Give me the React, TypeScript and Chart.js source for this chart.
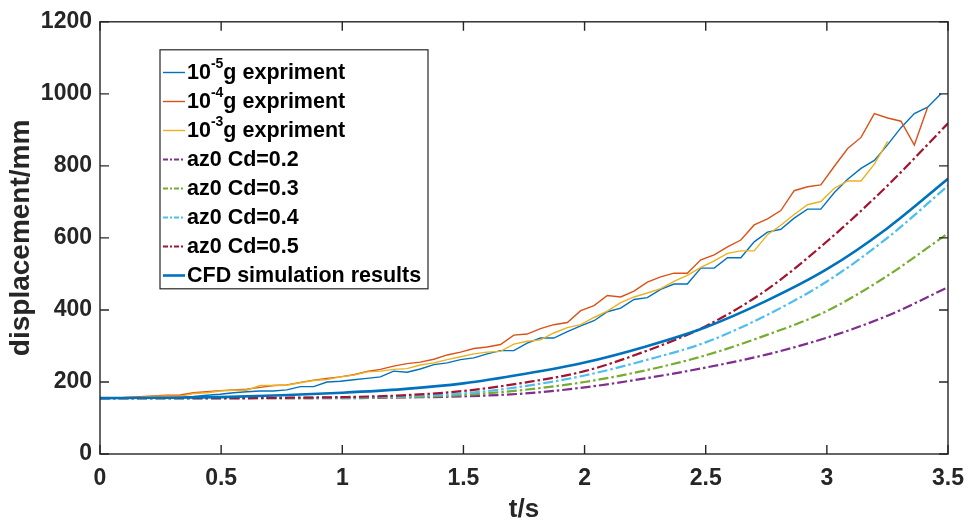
import React, { useEffect, useRef } from 'react';
import { Chart, registerables } from 'chart.js';

Chart.register(...registerables);

// ---- data ----
const EXP_T = [
  0, 0.055, 0.110, 0.165, 0.220, 0.276, 0.331, 0.386, 0.441, 0.496,
  0.551, 0.606, 0.661, 0.716, 0.771, 0.827, 0.882, 0.937, 0.992, 1.047,
  1.102, 1.157, 1.212, 1.267, 1.322, 1.378, 1.433, 1.488, 1.543, 1.598,
  1.653, 1.708, 1.763, 1.818, 1.873, 1.929, 1.984, 2.039, 2.094, 2.149,
  2.204, 2.259, 2.314, 2.369, 2.424, 2.480, 2.535, 2.590, 2.645, 2.700,
  2.755, 2.810, 2.865, 2.920, 2.975, 3.031, 3.086, 3.141, 3.196, 3.251,
  3.306, 3.361, 3.416, 3.471,
];

const EXP_1E5 = [
  155, 155, 156, 157, 158, 158, 158, 160, 163, 166,
  170, 173, 175, 175, 178, 187, 187, 200, 202, 206,
  210, 214, 230, 227, 236, 248, 253, 262, 267, 278,
  287, 287, 308, 322, 322, 340, 356, 370, 395, 405,
  429, 434, 457, 472, 472, 516, 516, 545, 545, 589,
  616, 624, 655, 680, 680, 726, 763, 793, 815, 859,
  906, 945, 963, 1000,
];

const EXP_1E4 = [
  155, 155, 157, 159, 161, 163, 164, 170, 173, 176,
  178, 180, 185, 190, 192, 199, 205, 210, 214, 220,
  229, 235, 244, 251, 255, 263, 275, 283, 293, 297,
  304, 330, 333, 348, 359, 365, 398, 412, 440, 436,
  452, 477, 492, 502, 502, 539, 553, 575, 594, 636,
  653, 676, 731, 742, 747, 799, 848, 879, 945, 933,
  924, 858, 963,
];

const EXP_1E3 = [
  155, 155, 157, 158, 160, 161, 160, 168, 170, 175,
  177, 177, 190, 190, 191, 198, 204, 207, 214, 219,
  228, 230, 235, 237, 247, 253, 262, 270, 278, 283,
  285, 305, 313, 317, 336, 351, 359, 379, 397, 420,
  436, 447, 459, 479, 496, 518, 536, 557, 564, 564,
  609, 635, 665, 692, 701, 738, 758, 758, 805, 868,
];

const MODEL_T = [0, 0.25, 0.5, 0.75, 1, 1.25, 1.5, 1.75, 2, 2.25, 2.5, 2.75, 3, 3.25, 3.5];
const CD02 = [155, 155, 155, 155, 155, 157, 160, 168, 185, 210, 240, 276, 323, 384, 463];
const CD03 = [155, 155, 155, 155, 156, 158, 164, 178, 200, 232, 274, 330, 397, 495, 613];
const CD04 = [155, 155, 155, 156, 157, 160, 168, 188, 218, 260, 310, 385, 479, 600, 745];
const CD05 = [155, 155, 155, 156, 158, 163, 175, 198, 230, 285, 355, 455, 590, 745, 918];
const CFD = [155, 156, 158, 163, 170, 180, 196, 222, 254, 298, 352, 425, 513, 627, 764];

const X_TICKS = [0, 0.5, 1, 1.5, 2, 2.5, 3, 3.5];
const Y_TICKS = [0, 200, 400, 600, 800, 1000, 1200];

const X_TITLE = 't/s';
const Y_TITLE = 'displacement/mm';

type Series = {
  base: string;
  sup?: string;
  rest?: string;
  t: number[];
  v: number[];
  color: string;
  width: number;
  dash: number[];
  smooth: boolean;
};

const DASHDOT = [10, 3, 2.5, 3];

const SERIES: Series[] = [
  { base: '10', sup: '-5', rest: 'g expriment', t: EXP_T, v: EXP_1E5, color: '#0072BD', width: 1.4, dash: [], smooth: false },
  { base: '10', sup: '-4', rest: 'g expriment', t: EXP_T, v: EXP_1E4, color: '#D95319', width: 1.4, dash: [], smooth: false },
  { base: '10', sup: '-3', rest: 'g expriment', t: EXP_T, v: EXP_1E3, color: '#EDB120', width: 1.4, dash: [], smooth: false },
  { base: 'az0 Cd=0.2', t: MODEL_T, v: CD02, color: '#7E2F8E', width: 2.2, dash: DASHDOT, smooth: true },
  { base: 'az0 Cd=0.3', t: MODEL_T, v: CD03, color: '#77AC30', width: 2.2, dash: DASHDOT, smooth: true },
  { base: 'az0 Cd=0.4', t: MODEL_T, v: CD04, color: '#4DBEEE', width: 2.2, dash: DASHDOT, smooth: true },
  { base: 'az0 Cd=0.5', t: MODEL_T, v: CD05, color: '#A2142F', width: 2.2, dash: DASHDOT, smooth: true },
  { base: 'CFD simulation results', t: MODEL_T, v: CFD, color: '#0072BD', width: 2.6, dash: [], smooth: true },
];

const AXIS_COLOR = '#262626';
const FONT = '"Liberation Sans", Arial, sans-serif';

const framePlugin = {
  id: 'matlabFrame',
  afterDatasetsDraw(chart: any) {
    const { ctx, chartArea: a, scales } = chart;
    const tl = 9;
    ctx.save();
    ctx.strokeStyle = AXIS_COLOR;
    ctx.lineWidth = 1.4;
    ctx.setLineDash([]);
    ctx.strokeRect(a.left, a.top, a.right - a.left, a.bottom - a.top);
    ctx.beginPath();
    X_TICKS.forEach((t) => {
      const x = scales.x.getPixelForValue(t);
      ctx.moveTo(x, a.bottom);
      ctx.lineTo(x, a.bottom - tl);
      ctx.moveTo(x, a.top);
      ctx.lineTo(x, a.top + tl);
    });
    Y_TICKS.forEach((v) => {
      const y = scales.y.getPixelForValue(v);
      ctx.moveTo(a.left, y);
      ctx.lineTo(a.left + tl, y);
      ctx.moveTo(a.right, y);
      ctx.lineTo(a.right - tl, y);
    });
    ctx.stroke();
    ctx.restore();
  },
  afterDraw(chart: any) {
    const { ctx, chartArea: a } = chart;
    const bx = a.left + 60;
    const by = a.top + 28;
    const bw = 268;
    const bh = 239;
    ctx.save();
    ctx.fillStyle = '#ffffff';
    ctx.fillRect(bx, by, bw, bh);
    ctx.strokeStyle = AXIS_COLOR;
    ctx.lineWidth = 1.2;
    ctx.strokeRect(bx, by, bw, bh);
    SERIES.forEach((s, i) => {
      const y = by + 22.7 + i * 29;
      ctx.strokeStyle = s.color;
      ctx.lineWidth = s.width;
      ctx.setLineDash(s.dash.length ? [5, 2, 2, 2] : []);
      ctx.beginPath();
      ctx.moveTo(bx + 3, y);
      ctx.lineTo(bx + 25, y);
      ctx.stroke();
      ctx.setLineDash([]);
      ctx.fillStyle = '#000000';
      ctx.textBaseline = 'middle';
      ctx.textAlign = 'left';
      let x = bx + 27;
      ctx.font = `bold 21.5px ${FONT}`;
      ctx.fillText(s.base, x, y + 1);
      x += ctx.measureText(s.base).width;
      if (s.sup) {
        ctx.font = `bold 14px ${FONT}`;
        ctx.fillText(s.sup, x, y - 8);
        x += ctx.measureText(s.sup).width;
      }
      if (s.rest) {
        ctx.font = `bold 21.5px ${FONT}`;
        ctx.fillText(s.rest, x, y + 1);
      }
    });
    ctx.restore();
  },
};

export default function App() {
  const ref = useRef<HTMLCanvasElement | null>(null);

  useEffect(() => {
    if (!ref.current) return;
    const n = SERIES.length;
    const chart = new Chart(ref.current, {
      type: 'line',
      data: {
        datasets: SERIES.map((s, i) => ({
          label: s.base + (s.sup || '') + (s.rest || ''),
          data: s.v.map((v, k) => ({ x: s.t[k], y: v })),
          borderColor: s.color,
          backgroundColor: s.color,
          borderWidth: s.width,
          borderDash: s.dash,
          pointRadius: 0,
          fill: false,
          order: n - i,
          cubicInterpolationMode: s.smooth ? 'monotone' : 'default',
          tension: 0,
        })),
      },
      options: {
        animation: false,
        responsive: false,
        layout: { padding: { top: 17, right: 30, left: 0, bottom: 0 } },
        plugins: {
          legend: { display: false },
          tooltip: { enabled: false },
        },
        scales: {
          x: {
            type: 'linear',
            min: 0,
            max: 3.5,
            afterBuildTicks: (sc: any) => {
              sc.ticks = X_TICKS.map((v) => ({ value: v }));
            },
            ticks: {
              color: AXIS_COLOR,
              font: { family: FONT, weight: 'bold', size: 23 },
              padding: 11,
              maxRotation: 0,
              autoSkip: false,
              callback: (v: any) => String(v),
            },
            grid: { display: false, drawTicks: false },
            border: { display: false },
            title: {
              display: true,
              text: X_TITLE,
              color: AXIS_COLOR,
              font: { family: FONT, weight: 'bold', size: 26, lineHeight: 1.0 },
              padding: { top: 0, bottom: 0 },
            },
            afterFit: (sc: any) => {
              sc.height = 69;
            },
          },
          y: {
            type: 'linear',
            min: 0,
            max: 1200,
            afterBuildTicks: (sc: any) => {
              sc.ticks = Y_TICKS.map((v) => ({ value: v }));
            },
            ticks: {
              color: AXIS_COLOR,
              font: { family: FONT, weight: 'bold', size: 23 },
              padding: 8,
              autoSkip: false,
              callback: (v: any) => String(v),
            },
            grid: { display: false, drawTicks: false },
            border: { display: false },
            title: {
              display: true,
              text: Y_TITLE,
              color: AXIS_COLOR,
              font: { family: FONT, weight: 'bold', size: 28 },
              padding: { top: 4, bottom: 0 },
            },
            afterFit: (sc: any) => {
              sc.width = 100;
            },
          },
        },
      } as any,
      plugins: [framePlugin],
    });
    return () => chart.destroy();
  }, []);

  return (
    <div style={{ position: 'absolute', left: 0, top: 0, width: 978, height: 523, background: '#fff' }}>
      <canvas ref={ref} width={978} height={523} style={{ display: 'block' }} />
    </div>
  );
}
